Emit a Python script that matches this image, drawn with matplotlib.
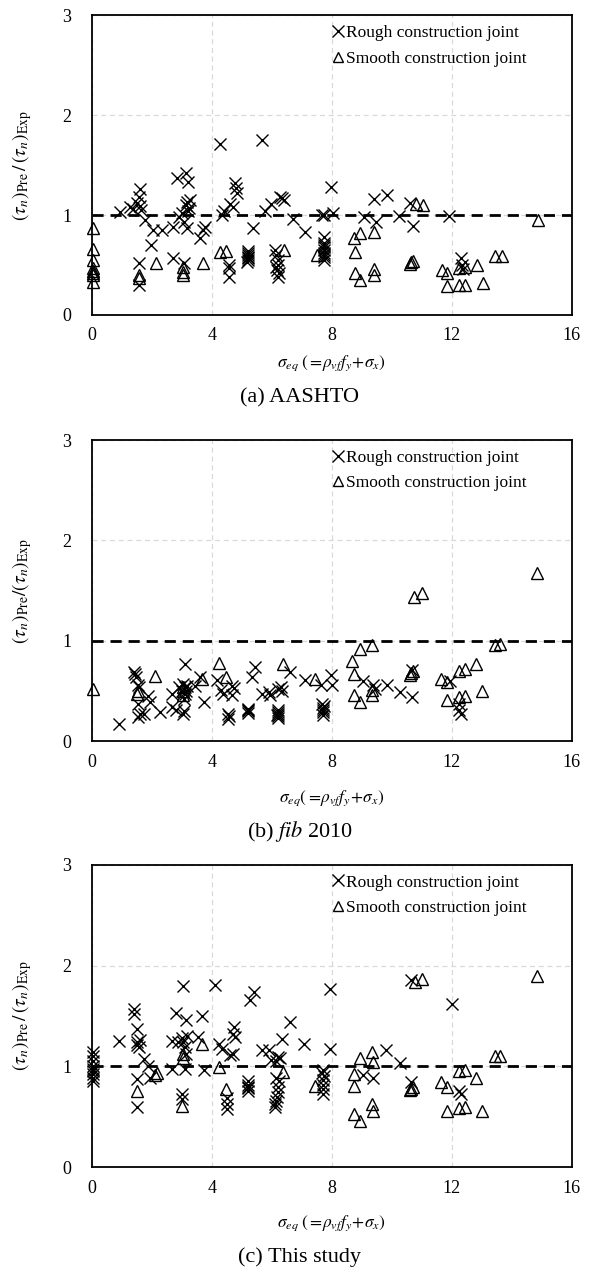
import matplotlib
matplotlib.use('Agg')
import matplotlib.pyplot as plt
from matplotlib.lines import Line2D

plt.rcParams['font.family'] = ['Liberation Serif', 'DejaVu Serif']
plt.rcParams['mathtext.fontset'] = 'stix'

# ---------------- data ----------------
# (a) AASHTO
a_rough_x = [0.94, 1.28, 1.36, 1.49, 1.56, 1.59, 1.65, 1.62, 1.78, 1.96, 2.03, 2.34, 1.56, 1.56,
             2.72, 2.72, 2.84, 2.90, 3.00, 3.07, 3.13, 3.22, 3.13, 3.18, 3.24, 3.20, 3.28, 3.18, 3.07,
             3.59, 3.72, 3.78, 4.26, 4.34, 4.40, 4.59, 4.72, 4.78, 4.82, 4.84, 4.57, 4.57, 4.57,
             5.20, 5.20, 5.20, 5.20, 5.20, 5.22, 5.18, 5.37, 5.68, 5.78, 5.97,
             6.10, 6.15, 6.20, 6.22, 6.18, 6.25, 6.20, 6.15, 6.26, 6.35, 6.40, 6.70, 7.12,
             7.75, 7.75, 7.75, 7.75, 7.75, 7.75, 7.75, 7.75, 7.75, 7.66, 7.75, 7.97, 8.03,
             9.07, 9.41, 9.47, 9.83, 10.22, 10.60, 10.69, 11.90, 12.29, 12.33, 12.36]
a_rough_y = [1.03, 1.08, 1.06, 1.12, 1.18, 1.26, 1.05, 1.09, 0.95, 0.70, 0.85, 0.85, 0.52, 0.30,
             0.88, 0.57, 1.37, 0.98, 1.02, 0.93, 1.42, 1.33, 1.10, 1.13, 1.07, 1.04, 1.15, 0.87, 0.52,
             0.77, 0.85, 0.88, 1.71, 1.00, 1.04, 1.11, 1.08, 1.32, 1.27, 1.22, 0.50, 0.47, 0.38,
             0.55, 0.58, 0.60, 0.62, 0.64, 0.57, 0.53, 0.87, 1.75, 1.04, 1.11,
             0.65, 0.60, 0.55, 0.50, 0.45, 0.42, 0.38, 0.48, 1.18, 1.17, 1.15, 0.96, 0.83,
             0.55, 0.58, 0.60, 0.62, 0.65, 0.68, 0.70, 0.72, 0.78, 1.00, 1.00, 1.28, 1.02,
             0.98, 1.16, 0.93, 1.20, 0.99, 1.12, 0.89, 0.99, 0.57, 0.50, 0.46]
a_smooth_x = [0.05, 0.05, 0.05, 0.05, 0.05, 0.05, 0.05, 0.05, 1.56, 1.56, 2.15, 3.05, 3.05, 3.05,
              3.72, 4.28, 4.47, 6.40, 7.50, 8.75, 8.95, 8.78, 8.78, 8.95, 9.41, 9.41, 9.41,
              10.60, 10.65, 10.70, 10.80, 11.04, 11.66, 11.83, 11.83, 12.23, 12.44, 12.23, 12.44,
              12.83, 13.05, 13.45, 13.67, 14.86]
a_smooth_y = [0.87, 0.66, 0.55, 0.47, 0.44, 0.42, 0.40, 0.33, 0.40, 0.37, 0.52, 0.48, 0.43, 0.40,
              0.52, 0.63, 0.64, 0.65, 0.60, 0.77, 0.82, 0.63, 0.42, 0.35, 0.83, 0.46, 0.40,
              0.51, 0.53, 0.54, 1.11, 1.10, 0.45, 0.42, 0.29, 0.30, 0.30, 0.47, 0.48,
              0.50, 0.32, 0.59, 0.59, 0.95]

# (b) fib 2010
b_rough_x = [0.90, 1.40, 1.43, 1.46, 1.53, 1.58, 1.55, 1.62, 1.53, 1.74, 1.86, 1.93, 2.28,
             2.68, 2.68, 2.80, 2.90, 3.00, 3.05, 3.12, 3.08, 3.04, 3.06, 3.10, 3.16, 3.09, 3.14,
             3.45, 3.62, 3.74, 4.16, 4.30, 4.37, 4.55, 4.55, 4.57, 4.68, 4.74, 4.68,
             5.20, 5.20, 5.20, 5.22, 5.33, 5.43, 5.68, 5.90, 5.95,
             6.20, 6.20, 6.20, 6.20, 6.22, 6.18, 6.21, 6.30, 6.35, 6.62, 7.10, 7.62,
             7.70, 7.70, 7.70, 7.70, 7.72, 7.68, 7.97, 8.00, 9.04, 9.38, 9.42, 9.82,
             10.26, 10.66, 10.68, 11.94, 12.25, 12.25, 12.30]
b_rough_y = [0.17, 0.69, 0.67, 0.64, 0.56, 0.54, 0.37, 0.27, 0.24, 0.27, 0.45, 0.39, 0.29,
             0.47, 0.34, 0.31, 0.54, 0.50, 0.57, 0.47, 0.42, 0.27, 0.30, 0.54, 0.55, 0.77, 0.50,
             0.55, 0.64, 0.39, 0.61, 0.51, 0.47, 0.27, 0.22, 0.25, 0.55, 0.53, 0.46,
             0.28, 0.30, 0.32, 0.31, 0.64, 0.74, 0.47, 0.49, 0.46,
             0.23, 0.25, 0.27, 0.29, 0.31, 0.26, 0.52, 0.54, 0.50, 0.69, 0.61, 0.56,
             0.26, 0.29, 0.31, 0.33, 0.35, 0.37, 0.66, 0.56, 0.60, 0.56, 0.52, 0.56,
             0.49, 0.71, 0.44, 0.60, 0.37, 0.31, 0.27]
b_smooth_x = [0.05, 1.49, 1.53, 2.12, 3.03, 3.05, 3.05, 3.68, 4.24, 4.46, 6.37, 7.43,
              8.66, 8.75, 8.75, 8.94, 8.94, 9.35, 9.35, 9.35, 10.60, 10.65, 10.70,
              10.75, 11.00, 11.62, 11.83, 11.83, 12.25, 12.42, 12.25, 12.42, 12.80, 13.00,
              13.42, 13.60, 14.84]
b_smooth_y = [0.52, 0.47, 0.50, 0.65, 0.50, 0.54, 0.46, 0.62, 0.78, 0.64, 0.77, 0.62,
              0.80, 0.67, 0.46, 0.39, 0.92, 0.96, 0.51, 0.46, 0.66, 0.68, 0.70,
              1.44, 1.48, 0.62, 0.59, 0.41, 0.70, 0.72, 0.44, 0.45, 0.77, 0.50,
              0.96, 0.97, 1.67]

# (c) This study
c_rough_x = [0.05, 0.05, 0.05, 0.05, 0.05, 0.05, 0.05, 0.05, 0.05, 0.90,
             1.39, 1.40, 1.49, 1.49, 1.51, 1.58, 1.62, 1.74, 1.86, 1.93, 1.49, 1.49,
             2.68, 2.80, 2.68, 2.87, 3.05, 2.99, 3.05, 3.12, 3.15, 3.18, 3.15, 3.12, 3.00, 3.00,
             3.68, 3.55, 3.74, 4.12, 4.24, 4.33, 4.50, 4.50, 4.50, 4.62, 4.70, 4.70, 4.74, 4.78,
             5.20, 5.20, 5.20, 5.20, 5.22, 5.28, 5.40, 5.68, 5.90,
             6.10, 6.12, 6.15, 6.18, 6.20, 6.22, 6.25, 6.15, 5.97, 6.15, 6.21, 6.28, 6.33, 6.62, 7.06,
             7.70, 7.70, 7.70, 7.70, 7.72, 7.68, 7.70, 7.95, 7.95,
             9.04, 9.38, 9.79, 10.26, 10.62, 10.62, 12.00, 12.25, 12.30]
c_rough_y = [1.14, 1.10, 1.05, 1.00, 0.97, 0.95, 0.92, 0.88, 0.85, 1.25,
             1.57, 1.52, 1.37, 1.24, 1.21, 1.19, 1.26, 1.07, 1.00, 0.88, 0.87, 0.60,
             0.97, 1.53, 1.25, 1.24, 1.80, 1.28, 1.24, 1.19, 1.46, 1.30, 1.12, 0.97, 0.73, 0.68,
             1.50, 1.29, 0.96, 1.81, 1.22, 1.17, 0.69, 0.63, 0.58, 1.11, 1.12, 1.32, 1.39, 1.29,
             0.76, 0.79, 0.82, 0.85, 0.80, 1.66, 1.74, 1.16, 1.16,
             0.60, 0.63, 0.66, 0.70, 0.75, 0.80, 0.85, 0.88, 1.06, 1.05, 1.09, 1.08, 1.27, 1.44, 1.22,
             0.73, 0.78, 0.82, 0.86, 0.90, 0.93, 0.96, 1.77, 1.17,
             0.91, 0.88, 1.16, 1.03, 1.86, 0.84, 1.62, 0.76, 0.73]
c_smooth_x = [1.49, 2.12, 2.18, 3.03, 3.05, 3.02, 3.68, 4.24, 4.46, 6.37, 7.43,
              8.75, 8.75, 8.75, 8.94, 8.94, 9.35, 9.38, 9.35, 9.38, 10.60, 10.65, 10.70,
              10.78, 11.00, 11.62, 11.83, 11.83, 12.25, 12.42, 12.25, 12.42, 12.80, 13.00,
              13.42, 13.60, 14.84]
c_smooth_y = [0.76, 0.91, 0.93, 1.12, 1.08, 0.61, 1.22, 0.99, 0.78, 0.94, 0.81,
              0.92, 0.81, 0.53, 0.46, 1.08, 1.14, 1.04, 0.63, 0.56, 0.77, 0.78, 0.80,
              1.84, 1.87, 0.84, 0.80, 0.56, 0.95, 0.96, 0.59, 0.60, 0.88, 0.56,
              1.10, 1.10, 1.90]

panels = [
    (a_rough_x, a_rough_y, a_smooth_x, a_smooth_y, r'(a) AASHTO',
     r'$\sigma_{eq}\;(=\!\rho_{vf}f_y\!+\!\sigma_x)$', r'$(\tau_n)_{\rm Pre}\,/\,(\tau_n)_{\rm Exp}$'),
    (b_rough_x, b_rough_y, b_smooth_x, b_smooth_y, r'(b) $\it{fib}$ 2010',
     r'$\sigma_{eq}(=\!\rho_{vf}f_y\!+\!\sigma_x)$', r'$(\tau_n)_{\rm Pre}/(\tau_n)_{\rm Exp}$'),
    (c_rough_x, c_rough_y, c_smooth_x, c_smooth_y, r'(c) This study',
     r'$\sigma_{eq}\;(=\!\rho_{vf}f_y\!+\!\sigma_x)$', r'$(\tau_n)_{\rm Pre}\,/\,(\tau_n)_{\rm Exp}$'),
]

# axes boxes in figure fraction [left, bottom, width, height]
boxes = [[0.156, 0.752, 0.815, 0.236],
         [0.156, 0.4165, 0.815, 0.237],
         [0.156, 0.081, 0.815, 0.238]]
caption_y = [398, 832, 1257]
xlabel_y = [363, 798, 1223]

fig = plt.figure(figsize=(5.89, 12.7), dpi=100)

for (rx, ry, sx, sy, cap, xl, yl), box, cy, xy in zip(panels, boxes, caption_y, xlabel_y):
    ax = fig.add_axes(box)
    ax.set_xlim(0, 16)
    ax.set_ylim(0, 3)
    ax.set_xticks([0, 4, 8, 12, 16])
    ax.set_yticks([0, 1, 2, 3])
    ax.tick_params(axis='x', length=0, labelsize=13, pad=9)
    ax.tick_params(axis='y', length=0, labelsize=13, pad=15)
    ax.grid(True, color='#d9d9d9', linestyle=(0, (4, 3)), linewidth=0.9)
    ax.set_axisbelow(True)
    for s in ax.spines.values():
        s.set_linewidth(1.3)
        s.set_color('black')

    ax.axhline(1.0, color='black', linestyle=(0, (4, 2.5)), linewidth=2.0, zorder=2)
    ax.plot(rx, ry, linestyle='none', marker='x', markersize=9, markeredgewidth=1.0,
            color='black', zorder=3, clip_on=False)
    ax.plot(sx, sy, linestyle='none', marker='^', markersize=8.5, markeredgewidth=1.0,
            markerfacecolor='none', markeredgecolor='black', zorder=3, clip_on=False)

    handles = [Line2D([0], [0], marker='x', linestyle='none', color='black', markersize=8.5,
                      markeredgewidth=1.0),
               Line2D([0], [0], marker='^', linestyle='none', markerfacecolor='none',
                      markeredgecolor='black', markersize=7, markeredgewidth=1.0)]
    ax.legend(handles, ['Rough construction joint', 'Smooth construction joint'],
              loc='upper right', bbox_to_anchor=(0.925, 1.0), frameon=False, fontsize=12.5,
              handlelength=0.6, handletextpad=0.15, labelspacing=0.55, borderaxespad=0.15)

    ax.set_ylabel(yl, fontsize=14, labelpad=20)
    fig.text(0.156 + 0.815 / 2, 1 - xy / 1270, xl, ha='center', va='center', fontsize=12.5)
    fig.text(300 / 589, 1 - cy / 1270, cap, ha='center', va='center', fontsize=16)

fig.savefig('out.png', dpi=100)
